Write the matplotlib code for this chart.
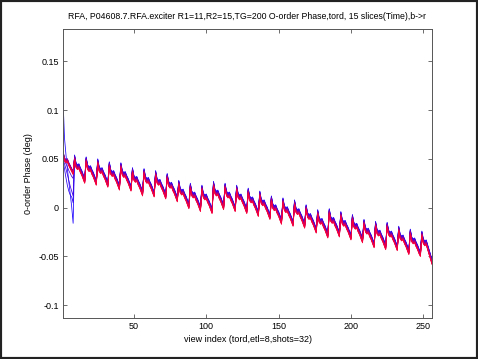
import numpy as np
import matplotlib
matplotlib.use("Agg")
import matplotlib.pyplot as plt
from matplotlib.patches import Rectangle

plt.rcParams['font.family'] = ['Liberation Sans', 'DejaVu Sans']

# central 0-order phase (deg), one row per shot (etl = 8 views per shot)
central_by_shot = [
    [0.057, 0.050, 0.048, 0.049, 0.045, 0.042, 0.039, 0.036],
    [0.051, 0.043, 0.041, 0.042, 0.038, 0.035, 0.031, 0.027],
    [0.049, 0.041, 0.039, 0.040, 0.036, 0.033, 0.029, 0.025],
    [0.047, 0.039, 0.037, 0.038, 0.034, 0.031, 0.027, 0.023],
    [0.044, 0.036, 0.034, 0.035, 0.031, 0.028, 0.024, 0.020],
    [0.043, 0.035, 0.033, 0.034, 0.030, 0.027, 0.023, 0.019],
    [0.038, 0.030, 0.028, 0.029, 0.025, 0.022, 0.018, 0.014],
    [0.037, 0.029, 0.027, 0.028, 0.024, 0.021, 0.017, 0.013],
    [0.035, 0.027, 0.025, 0.026, 0.022, 0.019, 0.015, 0.011],
    [0.032, 0.024, 0.022, 0.023, 0.019, 0.016, 0.012, 0.008],
    [0.025, 0.017, 0.015, 0.016, 0.012, 0.009, 0.005, 0.001],
    [0.022, 0.014, 0.012, 0.013, 0.009, 0.006, 0.002, -0.002],
    [0.020, 0.012, 0.010, 0.011, 0.007, 0.004, 0.000, -0.004],
    [0.024, 0.016, 0.014, 0.015, 0.011, 0.008, 0.004, 0.000],
    [0.022, 0.014, 0.012, 0.013, 0.009, 0.006, 0.002, -0.002],
    [0.020, 0.012, 0.010, 0.011, 0.007, 0.004, 0.000, -0.004],
    [0.017, 0.009, 0.007, 0.008, 0.004, 0.001, -0.003, -0.007],
    [0.014, 0.006, 0.004, 0.005, 0.001, -0.002, -0.006, -0.010],
    [0.009, 0.001, -0.001, 0.000, -0.004, -0.007, -0.011, -0.015],
    [0.007, -0.001, -0.003, -0.002, -0.006, -0.009, -0.013, -0.017],
    [0.005, -0.003, -0.005, -0.004, -0.008, -0.011, -0.015, -0.019],
    [0.000, -0.008, -0.010, -0.009, -0.013, -0.016, -0.020, -0.024],
    [-0.005, -0.013, -0.015, -0.014, -0.018, -0.021, -0.025, -0.029],
    [-0.004, -0.012, -0.014, -0.013, -0.017, -0.020, -0.024, -0.028],
    [-0.007, -0.015, -0.017, -0.016, -0.020, -0.023, -0.027, -0.031],
    [-0.010, -0.018, -0.020, -0.019, -0.023, -0.026, -0.030, -0.034],
    [-0.015, -0.023, -0.025, -0.024, -0.028, -0.031, -0.035, -0.039],
    [-0.017, -0.025, -0.027, -0.026, -0.030, -0.033, -0.037, -0.041],
    [-0.018, -0.026, -0.028, -0.027, -0.031, -0.034, -0.038, -0.042],
    [-0.022, -0.030, -0.032, -0.031, -0.035, -0.038, -0.042, -0.046],
    [-0.025, -0.033, -0.035, -0.034, -0.038, -0.041, -0.045, -0.048],
    [-0.027, -0.035, -0.037, -0.036, -0.041, -0.046, -0.051, -0.056],
]

# per-slice offset from the central curve (slice 1 = blue ... slice 15 = red)
slice_offset = [0.0030, 0.0024, 0.0020, 0.0016, 0.0012, 0.0009, 0.0006, 0.0003,
                0.0000, -0.0003, -0.0006, -0.0010, -0.0013, -0.0017, -0.0021]

# first shot (views 1-8) of the early slices, which diverge
first_shot = {
    0: [0.112, 0.072, 0.055, 0.040, 0.027, 0.014, 0.001, -0.016],
    1: [0.048, 0.040, 0.031, 0.023, 0.017, 0.013, 0.011, 0.005],
    2: [0.050, 0.045, 0.040, 0.034, 0.028, 0.022, 0.017, 0.012],
    3: [0.052, 0.048, 0.045, 0.042, 0.038, 0.035, 0.032, 0.030],
}

n_slices = 15
views = np.arange(1, 257)
central = np.array(central_by_shot).ravel()

fig = plt.figure(figsize=(4.78, 3.59), dpi=100)
fig.patch.set_facecolor('white')
ax = fig.add_axes([63/478, 41/359, 369/478, 289/359])

for s in range(n_slices):
    y = central + slice_offset[s]
    if s in first_shot:
        y = y.copy()
        y[:8] = first_shot[s]
    t = s / (n_slices - 1)
    ax.plot(views, y, color=(t * 0.88 + 0.1, 0.0, 1.0 - t * 0.78), lw=0.55)

ax.set_xlim(1, 256)
ax.set_ylim(-0.113, 0.183)
ax.set_xticks([50, 100, 150, 200, 250])
ax.set_yticks([-0.1, -0.05, 0, 0.05, 0.1, 0.15])
ax.set_yticklabels(['-0.1', '-0.05', '0', '0.05', '0.1', '0.15'])
ax.tick_params(direction='in', top=True, right=True, labelsize=6.5, length=3,
               width=0.6, color='#555555', pad=3)
for sp in ax.spines.values():
    sp.set_color('#555555')
    sp.set_linewidth(0.7)

ax.set_title('RFA, P04608.7.RFA.exciter R1=11,R2=15,TG=200 O-order Phase,tord, 15 slices(Time),b->r',
             fontsize=6.3, pad=7)
ax.set_xlabel('view index (tord,etl=8,shots=32)', fontsize=6.5, labelpad=3)
ax.set_ylabel('0-order Phase (deg)', fontsize=6.5, labelpad=4)

fig.patches.append(Rectangle((0, 0), 1, 1, transform=fig.transFigure, fill=False,
                             edgecolor='#222222', linewidth=3))

fig.savefig('out.png', dpi=100)
